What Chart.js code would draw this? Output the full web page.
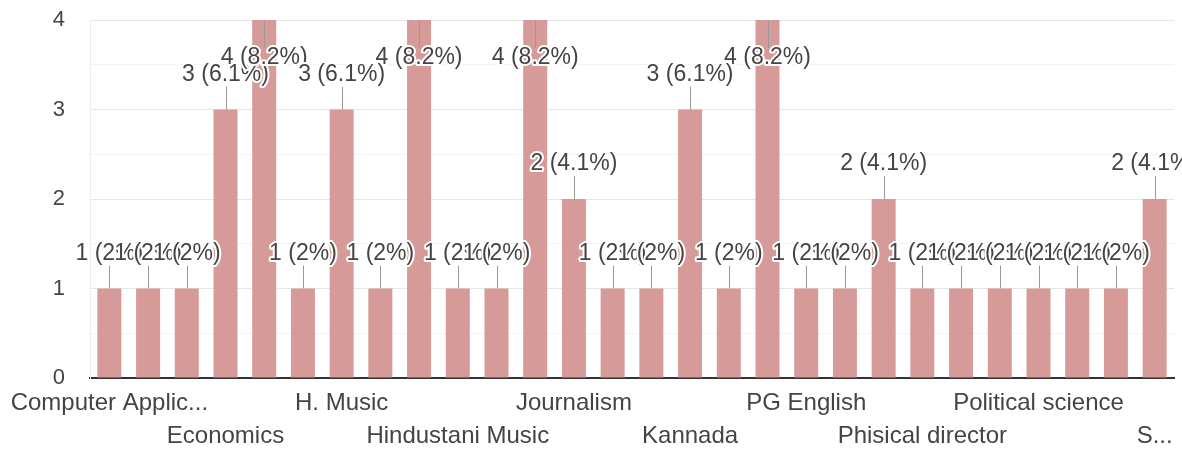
<!DOCTYPE html>
<html>
<head>
<meta charset="utf-8">
<title>Department responses</title>
<script src="https://cdn.jsdelivr.net/npm/chart.js@4.4.1/dist/chart.umd.min.js"></script>
<style>
    html, body { margin:0; padding:0; background:#fff; }
    #wrap { width:1182px; height:449px; }
</style>
</head>
<body>
<div id="wrap"><canvas id="deptChart"></canvas></div>
<script>
// ======================================
// DATA
// ======================================

const categories = [
    "Computer Applications", "Computer Science", "Dance", "Economics",
    "English", "Geography", "H. Music", "Hindi",
    "Hindustani Classical", "Hindustani Music", "History", "Home Science",
    "Journalism", "Journalism (PG)", "K. Literature", "Kannada",
    "Mathematics", "Music", "PG English", "PG Kannada",
    "Philosophy", "Phisical director", "Physical Education", "Physics",
    "Political science", "Psychology", "Public Administration", "Sociology"
];

const responses = [
    1, 1, 1, 3,
    4, 1, 3, 1,
    4, 1, 1, 4,
    2, 1, 1, 3,
    1, 4, 1, 1,
    2, 1, 1, 1,
    1, 1, 1, 2
];

// only every third label is printed, alternating rows
const tickLabels = [
    "Computer Applic...", "", "", "Economics",
    "", "", "H. Music", "",
    "", "Hindustani Music", "", "",
    "Journalism", "", "", "Kannada",
    "", "", "PG English", "",
    "", "Phisical director", "", "",
    "Political science", "", "", "S..."
];

const yTicks = [0, 1, 2, 3, 4];

const total = responses.reduce((a, b) => a + b, 0);

const FONT = "'Liberation Sans', Arial, sans-serif";

// ======================================
// ANNOTATIONS (value + percent with leader line)
// ======================================

const annotationPlugin = {

    id: "annotations",

    afterDatasetsDraw(chart){

        const ctx = chart.ctx;
        const area = chart.chartArea;
        const meta = chart.getDatasetMeta(0);

        ctx.save();
        ctx.font = "23px " + FONT;
        ctx.textAlign = "center";
        ctx.textBaseline = "middle";

        meta.data.forEach((bar, i) => {

            const v = responses[i];
            const pct = parseFloat((v / total * 100).toFixed(1));
            const text = v + " (" + pct + "%)";

            let textY, lineEnd;

            if (bar.y - 47 >= area.top){
                textY = bar.y - 35;
                lineEnd = bar.y - 23;
            } else {
                textY = bar.y + 38;
                lineEnd = bar.y + 28;
            }

            ctx.strokeStyle = "#9a9a9a";
            ctx.lineWidth = 1;
            ctx.beginPath();
            ctx.moveTo(Math.round(bar.x) + 0.5, bar.y);
            ctx.lineTo(Math.round(bar.x) + 0.5, lineEnd);
            ctx.stroke();

            ctx.lineJoin = "round";
            ctx.lineWidth = 4;
            ctx.strokeStyle = "#ffffff";
            ctx.strokeText(text, bar.x, textY);
            ctx.fillStyle = "#444444";
            ctx.fillText(text, bar.x, textY);

        });

        ctx.restore();

    }

};

// ======================================
// CHART
// ======================================

new Chart(

    document.getElementById("deptChart"),

    {

        type:"bar",

        data:{

            labels:categories,

            datasets:[{

                label:"Responses",

                data:responses,

                backgroundColor:"#d69b98",

                barPercentage:0.62,

                categoryPercentage:1

            }]

        },

        options:{

            responsive:true,

            maintainAspectRatio:false,

            animation:false,

            layout:{
                padding:{ top:20, right:8, left:0, bottom:0 }
            },

            plugins:{
                legend:{ display:false },
                tooltip:{ enabled:true }
            },

            scales:{

                x:{

                    grid:{ display:false, drawTicks:false },

                    border:{ display:true, color:"#333333", width:2 },

                    afterFit(scale){
                        scale.height = 71;
                        scale.paddingLeft = 0;
                        scale.paddingRight = 0;
                    },

                    ticks:{
                        autoSkip:false,
                        maxRotation:0,
                        minRotation:0,
                        padding:9,
                        color:"#444444",
                        font:{ family:FONT, size:24, lineHeight:1.38 },
                        callback(value, index){
                            const t = tickLabels[index];
                            if (!t) return "";
                            return (index / 3) % 2 === 0 ? t : ["", t];
                        }
                    }

                },

                y:{

                    min:0,

                    max:yTicks[yTicks.length - 1],

                    afterFit(scale){
                        scale.width = 90;
                        scale.paddingTop = 0;
                        scale.paddingBottom = 0;
                    },

                    border:{ display:true, color:"#eeeeee" },

                    grid:{
                        drawTicks:false,
                        color(c){
                            return Number.isInteger(c.tick.value) ? "#e6e6e6" : "#f3f3f3";
                        }
                    },

                    ticks:{
                        stepSize:0.5,
                        padding:25,
                        color:"#444444",
                        font:{ family:FONT, size:22 },
                        callback(value){
                            return yTicks.includes(value) ? value : "";
                        }
                    }

                }

            }

        },

        plugins:[annotationPlugin]

    }

);
</script>
</body>
</html>
